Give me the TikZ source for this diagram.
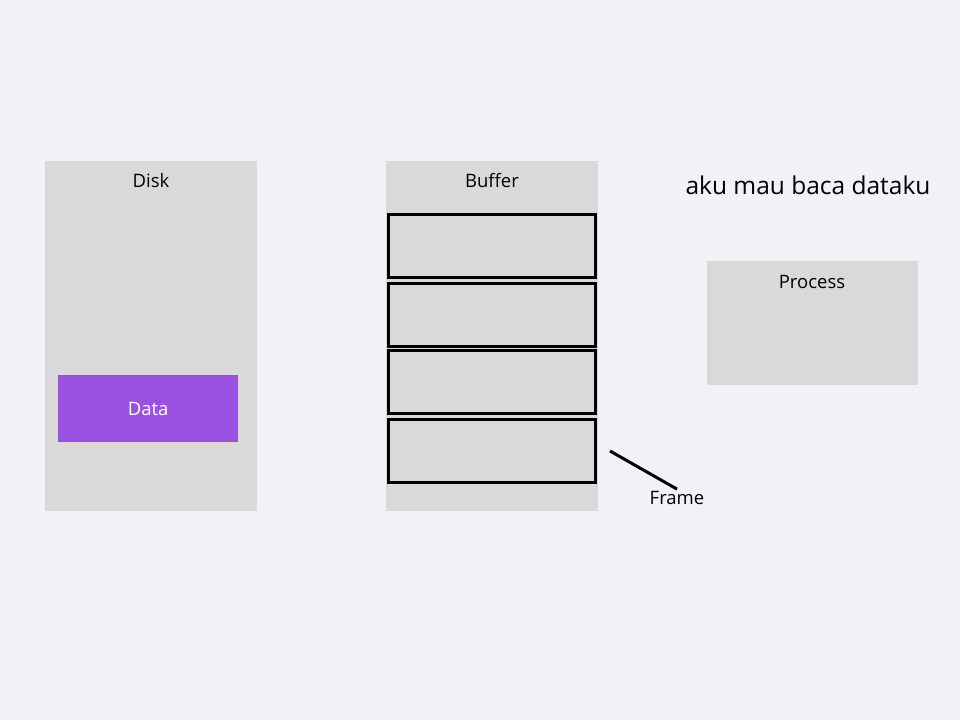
\documentclass[tikz,border=0pt]{standalone}
\usepackage{fontspec}
\setmainfont{Open Sans}
\usetikzlibrary{positioning}
\definecolor{pagebg}{HTML}{F1F2F6}
\definecolor{boxgray}{HTML}{D9D9D9}
\definecolor{datapurple}{HTML}{9B51E0}
\tikzset{
  panel/.style={fill=boxgray, draw=none, anchor=north west, inner sep=0pt},
  framebox/.style={fill=boxgray, draw=black, line width=3bp, anchor=north west,
                   minimum width=207bp, minimum height=62.5bp, inner sep=0pt},
  lbl/.style={font=\fontsize{18.5bp}{22bp}\selectfont, text=black, inner sep=1bp},
}
\begin{document}
\begin{tikzpicture}[x=1bp, y=-1bp]
    \fill[pagebg] (0,0) rectangle (960,720);
    \useasboundingbox (0,0) rectangle (960,720);
    % disk
    \node[panel, minimum width=212bp, minimum height=350bp] (disk) at (45,161) {};
    \node[lbl] (disklbl) at (151,181) {Disk};
    \node[panel, fill=datapurple, minimum width=180bp, minimum height=67bp] (data) at (58,375) {};
    \node[lbl, text=white] (datalbl) at (data.center) {Data};
    % buffer with frames
    \node[panel, minimum width=212bp, minimum height=350bp] (buffer) at (386,161) {};
    \node[lbl] (bufferlbl) at (492,181) {Buffer};
    \node[framebox] (f1) at (387,213) {};
    \node[framebox] (f2) at (387,282) {};
    \node[framebox] (f3) at (387,349) {};
    \node[framebox] (f4) at (387,418) {};
    \coordinate (ptr) at (610,451);
    \node[lbl, inner sep=2bp] (framelbl) at (677,498) {Frame};
    \draw[line width=3bp] (ptr) -- (framelbl.north);
    % process
    \node[panel, minimum width=211bp, minimum height=124bp] (proc) at (707,261) {};
    \node[lbl] (proclbl) at (812,282) {Process};
    \node[lbl, font=\fontsize{24.5bp}{29bp}\selectfont] (ask) at (808,185) {aku mau baca dataku};
  \end{tikzpicture}
\end{document}
